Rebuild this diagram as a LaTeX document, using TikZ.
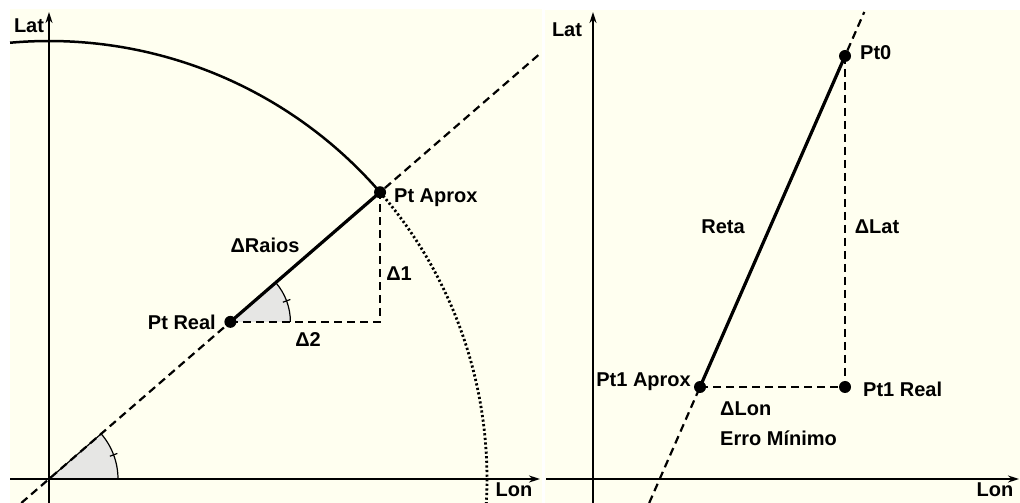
\documentclass[tikz,border=0pt]{standalone}
\usepackage{fontspec}
\setmainfont{Liberation Sans}
\usetikzlibrary{arrows.meta,calc}
\definecolor{cream}{RGB}{255,255,240}
\definecolor{sectorgray}{RGB}{230,230,228}
\begin{document}
\begin{tikzpicture}[x=1pt,y=1pt,
  axisline/.style={line width=1.9pt,-{Stealth[length=11pt,width=7pt]}},
  dashline/.style={line width=2.2pt,dash pattern=on 8pt off 5pt},
  dotline/.style={line width=2.8pt,dash pattern=on 2.2pt off 2.4pt},
  thickline/.style={line width=3.2pt},
  arcline/.style={line width=2.5pt},
  thinline/.style={line width=1.2pt},
  ptdot/.style={circle,fill=black,inner sep=0pt,minimum size=12pt},
  lbl/.style={font=\fontsize{20}{24}\selectfont\bfseries,inner sep=0pt}]
\useasboundingbox (0,0) rectangle (1020,503);
\fill[white] (0,0) rectangle (1020,503);
% panels
\fill[cream] (10,0) rectangle (542,494);
\fill[cream] (545,0) rectangle (1020,493);

%% ---------------- left panel ----------------
\coordinate (O) at (49,24);
\coordinate (LatTopL) at (49,491);
\coordinate (LatBotL) at (49,0);
\coordinate (LonLeftL) at (10,24);
\coordinate (LonRightL) at (540,24);
\coordinate (PtA) at ($(O)+(40.9:438pt)$);
\coordinate (PtR) at ($(O)+(40.9:240pt)$);
\coordinate (CornerL) at (PtA |- PtR);
\coordinate (ArcStart) at ($(O)+(95.1:438pt)$);

% sectors
\fill[sectorgray] (O) -- ++(0:69pt) arc[start angle=0,end angle=40.9,radius=69pt] -- cycle;
\fill[sectorgray] (PtR) -- ++(0:60pt) arc[start angle=0,end angle=40.9,radius=60pt] -- cycle;
\draw[thinline] ($(O)+(69pt,0)$) arc[start angle=0,end angle=40.9,radius=69pt] -- (O);
\draw[thinline] ($(O)+(20.5:65pt)$) -- ($(O)+(20.5:73pt)$);
\draw[thinline] ($(PtR)+(60pt,0)$) arc[start angle=0,end angle=40.9,radius=60pt];
\draw[thinline] ($(PtR)+(20.5:56pt)$) -- ($(PtR)+(20.5:64pt)$);

% axes
\draw[axisline] (LatBotL) -- (LatTopL);
\draw[axisline] (LonLeftL) -- (LonRightL);

% diagonal dashed
\draw[dashline] ($(O)!-0.0836!(PtA)$) -- ($(O)!1.483!(PtA)$);

% arcs
\draw[arcline] (ArcStart) arc[start angle=95.1,end angle=40.9,radius=438pt];
\draw[dotline] (PtA) arc[start angle=40.9,end angle=-3.2,radius=438pt];

% deltas
\draw[dashline] (PtR) -- (CornerL) -- (PtA);
\draw[thickline] (PtR) -- (PtA);

\node[ptdot] (PtAdot) at (PtA) {};
\node[ptdot] (PtRdot) at (PtR) {};

\node[lbl] (latL) at (29,477) {Lat};
\node[lbl,anchor=west] (ptaprox) at (394,305) {Pt Aprox};
\node[lbl] (draios) at (265,258) {ΔRaios};
\node[lbl] (d1) at (399,229) {Δ1};
\node[lbl,anchor=east] (ptreal) at (216,181) {Pt Real};
\node[lbl] (d2) at (308,163) {Δ2};
\node[lbl] (lonL) at (514,13) {Lon};

%% ---------------- right panel ----------------
\coordinate (LatTopR) at (593,491);
\coordinate (LatBotR) at (593,0);
\coordinate (LonLeftR) at (546,24);
\coordinate (LonRightR) at (1019,24);
\coordinate (P0) at (845,447);
\coordinate (P1A) at (700,116);
\coordinate (P1R) at (845,116);

\draw[axisline] (LatBotR) -- (LatTopR);
\draw[axisline] (LonLeftR) -- (LonRightR);

\draw[dashline] ($(P1A)!-0.3505!(P0)$) -- ($(P1A)!1.133!(P0)$);
\draw[dashline] (P0) -- (P1R) -- (P1A);
\draw[thickline] (P1A) -- (P0);

\node[ptdot] (P0dot) at (P0) {};
\node[ptdot] (P1Adot) at (P1A) {};
\node[ptdot] (P1Rdot) at (P1R) {};

\node[lbl] (latR) at (567,473) {Lat};
\node[lbl,anchor=west] (pt0) at (860,450) {Pt0};
\node[lbl] (reta) at (723,276) {Reta};
\node[lbl] (dlat) at (877,276) {ΔLat};
\node[lbl,anchor=east] (pt1aprox) at (691,121) {Pt1 Aprox};
\node[lbl,anchor=west] (pt1real) at (863,114) {Pt1 Real};
\node[lbl,anchor=west] (dlon) at (720,94) {ΔLon};
\node[lbl,anchor=west] (erro) at (720,65) {Erro Mínimo};
\node[lbl] (lonR) at (995,13) {Lon};
\end{tikzpicture}
\end{document}
